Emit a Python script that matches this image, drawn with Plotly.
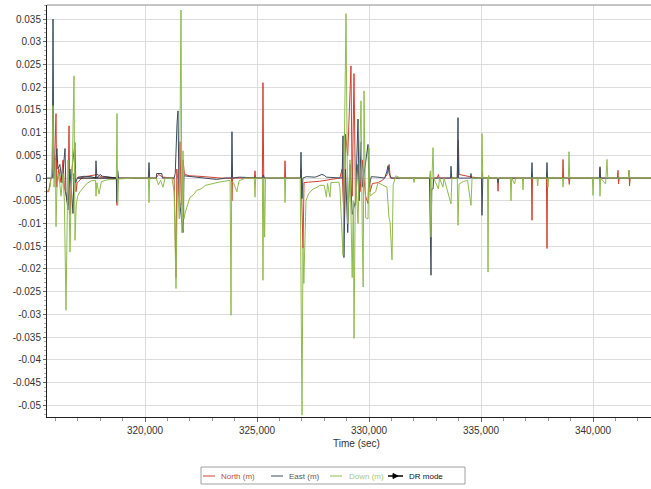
import plotly.graph_objects as go

# ---------------- data ----------------
north_t = [315625, 315700, 315800, 315950, 316027, 316060, 316150, 316250, 316339, 316400,
           316562, 316607, 316650, 316740, 316875, 316920, 316970, 317050, 317200, 317500,
           317700, 317900, 318000, 318300, 318720, 318750, 318780, 320500, 320600, 320800,
           321300, 321384, 321420, 321500, 321560, 321620, 321700, 321760, 322000, 322400,
           322900, 323400, 323860, 323883, 323910, 324880, 324910, 324940, 325240, 325267,
           325300, 326230, 326250, 326280, 326940, 326964, 327053, 327100, 327300, 327800,
           328300, 328700, 328800, 328900, 328950, 329050, 329196, 329250, 329330, 329400,
           329500, 329600, 329700, 329850, 329955, 330000, 330050, 330150, 330400, 330600,
           330800, 330900, 330950, 331100, 333040, 333100, 333130, 333940, 333990, 334020,
           334300, 334600, 335020, 335045, 335080, 335740, 335759, 335790, 337250, 337277,
           337300, 337920, 337946, 337970, 338640, 338661, 338690, 338910, 338940, 338970,
           340290, 340312, 340340, 341090, 341116, 341140, 341170, 341580, 341607, 341630,
           341660, 342600]
north_v = [-0.003, -0.003, 0.0, 0.001, 0.0142, -0.002, 0.002, -0.001, 0.004, -0.002,
           -0.006, 0.0115, -0.008, 0.002, 0.0078, -0.003, -0.001, -0.0007, 0.0002, 0.0004,
           0.0006, 0.0008, 0.0003, 0.0002, 0.0, -0.006, 0.0, 0.0, 0.0008, 0.0002,
           0.0, -0.0219, 0.002, -0.004, 0.008, -0.006, 0.004, 0.0008, 0.0005, 0.0004,
           0.0002, 0.0, 0.0, -0.005, 0.0, 0.0, 0.0016, 0.0, 0.0, 0.021,
           0.0, 0.0, 0.0038, 0.0, 0.0, 0.002, -0.0155, -0.001, -0.0009, -0.0007,
           -0.0003, 0.0, 0.002, -0.0115, 0.0097, 0.005, 0.0247, -0.004, 0.023, -0.006,
           0.003, -0.003, 0.004, -0.004, -0.0056, 0.002, -0.003, -0.0012, -0.001, -0.0005,
           0.0007, 0.003, 0.0, 0.0, 0.0, 0.0008, 0.0, 0.0, 0.0083, 0.0008,
           0.0005, 0.0002, 0.0, 0.0016, 0.0, 0.0, -0.0029, 0.0, 0.0, -0.0093,
           0.0, 0.0, -0.0155, 0.0, 0.0, 0.0041, 0.0, 0.0, -0.0014, 0.0,
           0.0, 0.0021, 0.0, 0.0, 0.0017, -0.0013, 0.0, 0.0, 0.0017, -0.0017,
           0.0, 0.0]

east_t = [315625, 315860, 315893, 315930, 316000, 316071, 316110, 316200, 316300, 316429,
          316470, 316560, 316650, 316786, 316830, 316900, 317000, 317300, 317600, 317790,
          317812, 317850, 318000, 318100, 318300, 318720, 318750, 318780, 318820, 320150,
          320178, 320210, 320500, 320520, 320750, 320780, 321300, 321350, 321430, 321473,
          321520, 321696, 321740, 321900, 322300, 322800, 323200, 323600, 323860, 323883,
          323910, 324200, 325240, 325290, 325320, 326940, 326964, 327009, 327050, 327200,
          327600, 327900, 328000, 328100, 328500, 328800, 328839, 328880, 328950, 329050,
          329150, 329250, 329400, 329509, 329560, 329650, 329700, 329955, 330000, 330100,
          330400, 330700, 330800, 330848, 330900, 331000, 332700, 332768, 332800, 332860,
          332890, 333640, 333661, 333690, 333940, 333973, 334000, 334530, 334554, 334580,
          335020, 335045, 335080, 335740, 335759, 335780, 337250, 337277, 337300, 337920,
          337946, 337970, 340290, 340312, 340340, 342600]
east_v = [0.0, 0.0, 0.035, 0.0, 0.003, 0.0065, 0.002, 0.003, -0.001, 0.0065,
          -0.003, -0.007, 0.002, -0.0078, 0.001, -0.001, 0.0002, 0.0004, 0.0003, 0.0,
          0.0038, 0.0, 0.0008, 0.0004, 0.0003, 0.0, -0.0054, 0.0017, 0.0, 0.0,
          0.0034, 0.0, 0.0, 0.001, 0.001, 0.0, 0.0, 0.001, 0.012, 0.0148,
          -0.004, -0.012, 0.0005, 0.0004, 0.0003, 0.0, -0.0003, 0.0, 0.0, 0.0102,
          0.0, 0.0002, 0.0, 0.0007, 0.0, 0.0, 0.0057, -0.0045, 0.0, 0.0003,
          0.0002, 0.0008, 0.0006, 0.0002, 0.0, 0.0, 0.0093, -0.0175, 0.002, -0.012,
          0.003, -0.008, -0.005, 0.013, -0.005, 0.008, -0.002, 0.0074, -0.002, 0.0003,
          0.0002, 0.0, 0.0015, 0.0027, 0.001, 0.0, 0.0, -0.0214, -0.0024, -0.0024,
          0.0, 0.0, 0.0026, 0.0, 0.0, 0.0133, 0.0, 0.0, 0.001, 0.0,
          0.0, -0.0082, 0.0, 0.0, -0.001, 0.0, 0.0, 0.0034, 0.0, 0.0,
          0.0034, 0.0, 0.0, 0.0025, 0.0, 0.0]

down_t = [315625, 315760, 315850, 315893, 315940, 316000, 316027, 316070, 316150, 316250,
          316339, 316400, 316473, 316520, 316562, 316607, 316652, 316700, 316760, 316830,
          316875, 316930, 316990, 317100, 317250, 317400, 317600, 317790, 317812, 317850,
          317950, 318050, 318300, 318720, 318750, 318780, 318820, 319500, 320150, 320178,
          320210, 320500, 320600, 320700, 320800, 320900, 321200, 321300, 321384, 321450,
          321530, 321607, 321650, 321696, 321740, 321785, 322000, 322200, 322300, 322500,
          322700, 323000, 323300, 323800, 323839, 323870, 323950, 324100, 324200, 324500,
          324880, 324910, 324940, 325240, 325267, 325300, 325340, 325380, 326230, 326250,
          326280, 326930, 327009, 327053, 327090, 327187, 327300, 327500, 327700, 327800,
          328000, 328100, 328150, 328258, 328300, 328650, 328700, 328839, 328900, 328973,
          329050, 329150, 329250, 329300, 329330, 329400, 329509, 329643, 329700, 329740,
          329777, 329850, 329955, 330000, 330050, 330150, 330300, 330400, 330600, 330800,
          330893, 330940, 331027, 331080, 331200, 331400, 331980, 332009, 332040, 332700,
          332740, 332768, 332810, 332857, 332890, 333100, 333150, 333300, 333350, 333661,
          333700, 333940, 333973, 334020, 334200, 334400, 334554, 334600, 335020, 335045,
          335080, 335290, 335313, 335340, 335370, 336310, 336339, 336370, 336500, 336550,
          336850, 336875, 336900, 337500, 337530, 337560, 337960, 337990, 338020, 338640,
          338661, 338690, 338900, 338929, 338960, 339970, 340000, 340030, 340290, 340312,
          340340, 340560, 340625, 340660, 341580, 341607, 341640, 342600]
down_v = [-0.003, -0.002, 0.002, 0.016, -0.002, 0.004, -0.0107, -0.002, 0.001, -0.004,
          0.001, -0.005, -0.0291, -0.006, 0.004, -0.004, -0.0163, -0.004, 0.003, 0.0225,
          -0.0137, -0.006, -0.004, -0.003, -0.002, -0.0012, -0.0006, -0.0005, -0.004, -0.001,
          -0.0035, -0.0008, -0.0004, -0.0002, 0.0142, -0.006, -0.0002, 0.0, 0.0, -0.0054,
          0.0, 0.0, -0.0015, -0.0005, -0.002, 0.0, 0.0, -0.003, -0.0243, 0.0,
          -0.009, 0.037, -0.012, 0.006, -0.009, -0.0078, -0.0043, -0.0035, -0.0027, -0.0024,
          -0.0016, -0.0012, -0.0009, -0.0005, -0.0302, -0.0008, -0.001, -0.003, -0.0006, 0.0,
          0.0, -0.0042, 0.0, 0.0, -0.0225, 0.0, -0.013, 0.0, 0.0, -0.0054,
          0.0, 0.0, -0.0522, -0.0155, -0.0232, -0.005, -0.0035, -0.0024, -0.002, -0.0016,
          -0.0016, -0.0042, -0.0012, -0.0042, -0.001, -0.0009, -0.002, -0.017, 0.004, 0.0362,
          -0.01, 0.004, -0.0219, -0.005, -0.0353, 0.002, -0.01, 0.017, -0.012, -0.024,
          0.0192, -0.0087, -0.009, 0.0067, -0.004, -0.0035, -0.003, -0.001, -0.0015, -0.002,
          -0.0087, -0.0097, -0.018, -0.0015, 0.0005, 0.0, 0.0, -0.001, 0.0, 0.0,
          0.0016, -0.013, 0.0, 0.0067, 0.0, -0.0024, 0.0, -0.002, 0.0, -0.0057,
          0.0, 0.0, -0.0104, -0.0013, -0.0008, -0.0005, -0.006, 0.0, 0.0, 0.0098,
          0.0, 0.0, -0.0207, 0.0006, 0.0, 0.0, -0.005, 0.0, -0.0013, 0.0,
          0.0, -0.0026, 0.0, 0.0, -0.0017, 0.0, 0.0, -0.002, 0.0, 0.0,
          -0.002, 0.0, 0.0, 0.0058, 0.0, 0.0, -0.0038, 0.0, 0.0, -0.004,
          0.0, -0.0013, 0.0041, 0.0, 0.0, 0.0017, 0.0, 0.0]

dr_t = [317000, 318700]
dr_v = [0.0, 0.0]

y_ticks = [0.035, 0.03, 0.025, 0.02, 0.015, 0.01, 0.005, 0.0, -0.005, -0.01,
           -0.015, -0.02, -0.025, -0.03, -0.035, -0.04, -0.045, -0.05]
y_tick_labels = ["0.035", "0.03", "0.025", "0.02", "0.015", "0.01", "0.005", "0", "-0.005", "-0.01",
                 "-0.015", "-0.02", "-0.025", "-0.03", "-0.035", "-0.04", "-0.045", "-0.05"]
x_ticks = [320000, 325000, 330000, 335000, 340000]
x_tick_labels = ["320,000", "325,000", "330,000", "335,000", "340,000"]

legend_names = ["North (m)", "East (m)", "Down (m)", "DR mode"]
line_colors = ["#d2402e", "#3b4b5c", "#8fbb4c", "#000000"]
legend_text_colors = ["#b8503e", "#5a5a5a", "#a9c97e", "#111111"]

# ---------------- layout geometry (pixels) ----------------
W, H = 651, 489
PL, PR, PT, PB = 47, 651, 5, 417


def fx(px):
    return (px - PL) / (PR - PL)


def fy(py):
    return (PB - py) / (PB - PT)


# ---------------- figure ----------------
fig = go.Figure()
series = [(north_t, north_v), (east_t, east_v), (down_t, down_v), (dr_t, dr_v)]
for (xs, ys), name, col in zip(series, legend_names, line_colors):
    fig.add_trace(go.Scatter(x=xs, y=ys, mode="lines", name=name,
                             line=dict(color=col, width=1), showlegend=False))

# custom legend (box, short line symbols, coloured labels)
leg_y = 476
sym_x = [(203, 215), (271, 283), (330, 342), (388, 403)]
txt_x = [219, 287, 347, 407]
shapes = [
    dict(type="line", xref="paper", yref="paper", x0=0, x1=1, y0=1, y1=1,
         line=dict(color="#8a8a8a", width=1)),
    dict(type="rect", xref="paper", yref="paper", x0=fx(201), x1=fx(465),
         y0=fy(484), y1=fy(467), line=dict(color="#a0a0a0", width=1),
         fillcolor="white"),
]
annotations = [dict(text="Time (sec)", xref="paper", yref="paper",
                    x=fx(356), y=fy(443), xanchor="center", yanchor="middle",
                    showarrow=False, font=dict(size=10, color="#333333"))]
for (x0, x1), tx, name, col, tcol in zip(sym_x, txt_x, legend_names, line_colors,
                                          legend_text_colors):
    shapes.append(dict(type="line", xref="paper", yref="paper", x0=fx(x0), x1=fx(x1),
                       y0=fy(leg_y), y1=fy(leg_y),
                       line=dict(color=col, width=1.5 if name == "DR mode" else 1)))
    annotations.append(dict(text=name, xref="paper", yref="paper", x=fx(tx), y=fy(leg_y),
                            xanchor="left", yanchor="middle", showarrow=False,
                            font=dict(size=8, color=tcol)))
# DR mode marker in legend
shapes.append(dict(type="path", xref="paper", yref="paper",
                   path="M {a},{b} L {c},{d} L {a},{e} Z".format(
                       a=fx(393), b=fy(473.5), c=fx(398), d=fy(476), e=fy(478.5)),
                   fillcolor="#000000", line=dict(color="#000000", width=1)))

fig.update_layout(
    width=W, height=H,
    margin=dict(l=PL, r=W - PR, t=PT, b=H - PB),
    paper_bgcolor="white", plot_bgcolor="white",
    font=dict(family="Liberation Sans, Arial, sans-serif", size=10, color="#333333"),
    showlegend=False,
    xaxis=dict(range=[315625, 342589], tickvals=x_ticks, ticktext=x_tick_labels,
               automargin=False,
               showgrid=True, gridcolor="#dcdcdc", gridwidth=1,
               zeroline=False, showline=True, linecolor="#222222", linewidth=1,
               ticks="outside", ticklen=4, tickcolor="#666666",
               minor=dict(dtick=1000, tick0=0, ticks="outside", ticklen=3,
                          tickcolor="#999999", showgrid=False),
               tickfont=dict(size=10, color="#333333")),
    yaxis=dict(range=[-0.0526, 0.0381], tickvals=y_ticks, ticktext=y_tick_labels,
               automargin=False,
               showgrid=True, gridcolor="#dcdcdc", gridwidth=1,
               zeroline=False, showline=True, linecolor="#222222", linewidth=1,
               ticks="outside", ticklen=3, tickcolor="#666666",
               minor=dict(dtick=0.001, ticks="outside", ticklen=2,
                          tickcolor="#aaaaaa", showgrid=False),
               tickfont=dict(size=10, color="#333333")),
    shapes=shapes,
    annotations=annotations,
)

fig.write_html(
    "out.html",
    config={"displayModeBar": False},
    post_script="document.body.style.margin='0';document.body.style.overflow='hidden';",
)
